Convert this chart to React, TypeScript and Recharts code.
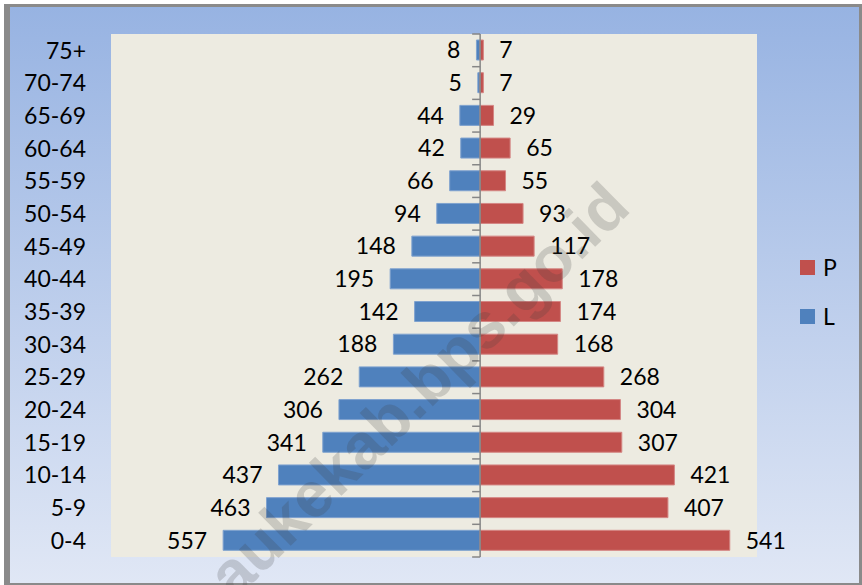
import React from 'react';
import { BarChart, Bar, XAxis, YAxis, CartesianGrid, ReferenceLine, LabelList } from 'recharts';

// age groups, youngest first (drawn bottom-up)
const ageGroups = ['0-4', '5-9', '10-14', '15-19', '20-24', '25-29', '30-34', '35-39', '40-44', '45-49', '50-54', '55-59', '60-64', '65-69', '70-74', '75+'];
const maleL = [557, 463, 437, 341, 306, 262, 188, 142, 195, 148, 94, 66, 42, 44, 5, 8];
const femaleP = [541, 407, 421, 307, 304, 268, 168, 174, 178, 117, 93, 55, 65, 29, 7, 7];

const BLUE = '#4F81BD';
const RED = '#C0504D';
const FONT = 'Lato, "Open Sans", sans-serif';

const data = ageGroups.map((age, i) => ({ age, L: -maleL[i], P: femaleP[i] }));

// value label placed outside the bar end, whichever way the bar runs
const outsideLabel = (side: 'left' | 'right') => (props: any) => {
  const { x, y, width, height, value } = props;
  const left = Math.min(x, x + width);
  const right = Math.max(x, x + width);
  const tx = side === 'left' ? left - 16 : right + 16;
  return (
    <text x={tx} y={y + height / 2} dy="0.36em" textAnchor={side === 'left' ? 'end' : 'start'}
      fontFamily={FONT} fontSize={23} fill="#000">
      {Math.abs(value)}
    </text>
  );
};

// center axis with small ticks pointing left at category boundaries
const CenterAxis = (props: any) => {
  const { x1, y1, y2 } = props;
  const top = Math.min(y1, y2);
  const bottom = Math.max(y1, y2);
  const step = (bottom - top) / ageGroups.length;
  const ticks = [];
  for (let i = 0; i <= ageGroups.length; i++) {
    const ty = top + i * step;
    ticks.push(<line key={i} x1={x1 - 8} x2={x1} y1={ty} y2={ty} stroke="#868686" strokeWidth={1.5} />);
  }
  return (
    <g>
      <line x1={x1} x2={x1} y1={top} y2={bottom} stroke="#868686" strokeWidth={1.5} />
      {ticks}
    </g>
  );
};

export default function App() {
  return (
    <div style={{ position: 'absolute', left: 0, top: 0, width: 862, height: 585, background: '#fff', overflow: 'hidden' }}>
      <div style={{
        position: 'absolute', left: 4, top: 4, width: 849, height: 576,
        borderLeft: '6px solid #8a8a8a', borderTop: '3px solid #8a8a8a',
        borderRight: '3px solid #8a8a8a', borderBottom: '2px solid #8a8a8a',
        background: 'linear-gradient(180deg, #97B3E2 0%, #E0E7F5 100%)',
      }}>
        <BarChart width={849} height={576} data={data} layout="vertical" stackOffset="sign"
          margin={{ top: 27, right: 102, bottom: 26, left: 0 }}>
          <CartesianGrid fill="#EDEBE1" horizontal={false} vertical={false} />
          <XAxis type="number" domain={[-800, 600]} hide allowDataOverflow />
          <YAxis type="category" dataKey="age" reversed width={101} axisLine={false} tickLine={false}
            tickSize={0} tickMargin={25} interval={0}
            tick={{ fill: '#000', fontSize: 23, fontFamily: FONT }} />
          <Bar dataKey="L" stackId="pop" fill={BLUE} stroke="#7FA2CF" strokeWidth={1} barSize={20} isAnimationActive={false}>
            <LabelList dataKey="L" content={outsideLabel('left')} />
          </Bar>
          <Bar dataKey="P" stackId="pop" fill={RED} stroke="#D48684" strokeWidth={1} barSize={20} isAnimationActive={false}>
            <LabelList dataKey="P" content={outsideLabel('right')} />
          </Bar>
          <ReferenceLine x={0} shape={CenterAxis} />
        </BarChart>

        {/* legend */}
        <div style={{ position: 'absolute', left: 790, top: 248, fontFamily: FONT, fontSize: 23, color: '#000' }}>
          <div style={{ display: 'flex', alignItems: 'center', height: 24 }}>
            <span style={{ width: 15, height: 15, background: RED, display: 'inline-block', marginRight: 8 }} />P
          </div>
          <div style={{ display: 'flex', alignItems: 'center', height: 24, marginTop: 25 }}>
            <span style={{ width: 15, height: 15, background: BLUE, display: 'inline-block', marginRight: 8 }} />L
          </div>
        </div>
      </div>

      {/* watermark */}
      <div style={{
        position: 'absolute', left: 418, top: 390, transform: 'translate(-50%, -50%) rotate(-44.5deg)',
        fontFamily: '"Liberation Sans", Arial, sans-serif', fontWeight: 700, fontSize: 64,
        color: 'rgba(60, 60, 60, 0.2)', whiteSpace: 'nowrap', pointerEvents: 'none',
      }}>
        aukekab.bps.go.id
      </div>
    </div>
  );
}
